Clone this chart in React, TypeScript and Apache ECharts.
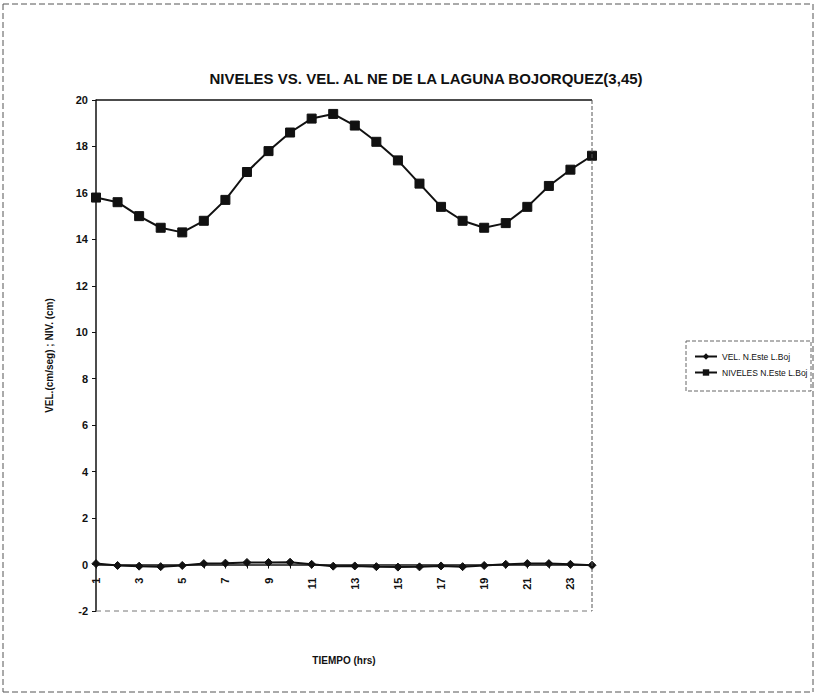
import React, { useEffect, useRef } from "react";
import * as echarts from "echarts";

const hours = ["1","2","3","4","5","6","7","8","9","10","11","12","13","14","15","16","17","18","19","20","21","22","23","24"];
const velValues = [0.04,-0.04,-0.07,-0.09,-0.04,0.04,0.06,0.09,0.09,0.1,0.01,-0.07,-0.06,-0.09,-0.11,-0.1,-0.06,-0.09,-0.04,0.01,0.04,0.04,0.01,-0.03];
const nivValues = [15.8,15.6,15.0,14.5,14.3,14.8,15.7,16.9,17.8,18.6,19.2,19.4,18.9,18.2,17.4,16.4,15.4,14.8,14.5,14.7,15.4,16.3,17.0,17.6];
const yTicks = { min: -2, max: 20, interval: 2 };

const FONT = "Liberation Sans, Arial, sans-serif";

export default function App() {
  const ref = useRef<HTMLDivElement>(null);
  useEffect(() => {
    if (!ref.current) return;
    const chart = echarts.init(ref.current, undefined, { renderer: "svg" });
    const L = 96, R = 592, T = 100, B = 611;
    const zeroOffset = -((0 - yTicks.min) / (yTicks.max - yTicks.min)) * (B - T);
    const frame = { x1: 3, y1: 4, x2: 813, y2: 692 };
    const dashed = { stroke: "#555", lineWidth: 1, lineDash: [6, 3] };
    chart.setOption({
      animation: false,
      backgroundColor: "#fff",
      title: {
        text: "NIVELES VS. VEL. AL NE DE LA LAGUNA BOJORQUEZ(3,45)",
        left: 421,
        top: 66,
        textAlign: "center",
        textStyle: { fontFamily: FONT, fontWeight: "bold", fontSize: 15, color: "#111" },
      },
      grid: { left: L, right: 817 - R, top: T, bottom: 699 - B, containLabel: false, outerBoundsMode: "none" },
      legend: {
        orient: "vertical",
        left: 689,
        top: 347,
        itemGap: 7,
        itemWidth: 22,
        itemHeight: 8,
        textStyle: { fontFamily: FONT, fontSize: 8.5, color: "#111" },
        data: ["VEL. N.Este L.Boj", "NIVELES N.Este L.Boj"],
      },
      xAxis: {
        type: "category",
        data: hours,
        boundaryGap: false,
        offset: zeroOffset,
        axisLine: { onZero: false, lineStyle: { color: "#111", width: 1.5 } },
        axisTick: { show: true, length: 4, interval: 0, lineStyle: { color: "#111" } },
        axisLabel: {
          interval: 1,
          rotate: 90,
          fontFamily: FONT,
          fontWeight: "bold",
          fontSize: 11,
          color: "#111",
          margin: 13,
        },
        splitLine: { show: false },
      },
      yAxis: {
        type: "value",
        min: yTicks.min,
        max: yTicks.max,
        interval: yTicks.interval,
        axisLine: { show: true, lineStyle: { color: "#111", width: 1.5 } },
        axisTick: { show: true, length: 4, lineStyle: { color: "#111" } },
        axisLabel: { fontFamily: FONT, fontWeight: "bold", fontSize: 11, color: "#111", margin: 8 },
        splitLine: { show: false },
        name: "VEL.(cm/seg) ; NIV. (cm)",
        nameLocation: "middle",
        nameGap: 42,
        nameRotate: 90,
        nameTextStyle: { fontFamily: FONT, fontWeight: "bold", fontSize: 10, color: "#111" },
      },
      graphic: [
        { id: "f1", type: "line", z: 10, shape: { x1: frame.x1, y1: frame.y1, x2: frame.x2, y2: frame.y1 }, style: dashed, silent: true },
        { id: "f2", type: "line", z: 10, shape: { x1: frame.x2, y1: frame.y1, x2: frame.x2, y2: frame.y2 }, style: dashed, silent: true },
        { id: "f3", type: "line", z: 10, shape: { x1: frame.x1, y1: frame.y2, x2: frame.x2, y2: frame.y2 }, style: dashed, silent: true },
        { id: "f4", type: "line", z: 10, shape: { x1: frame.x1, y1: frame.y1, x2: frame.x1, y2: frame.y2 }, style: dashed, silent: true },
        {
          id: "xname",
          type: "text",
          z: 10,
          x: (L + R) / 2,
          y: 660,
          style: {
            text: "TIEMPO (hrs)",
            font: "bold 10px " + FONT,
            fill: "#111",
            align: "center",
            verticalAlign: "middle",
          },
          silent: true,
        },
        { id: "top", type: "line", z: 10, shape: { x1: L, y1: T, x2: R, y2: T }, style: { stroke: "#111", lineWidth: 1.5 }, silent: true },
        { id: "right", type: "line", z: 10, shape: { x1: R, y1: T, x2: R, y2: B }, style: { stroke: "#555", lineWidth: 1, lineDash: [4, 2] }, silent: true },
        { id: "bottom", type: "line", z: 10, shape: { x1: L, y1: B, x2: R, y2: B }, style: { stroke: "#777", lineWidth: 1, lineDash: [5, 4] }, silent: true },
        {
          id: "legbox",
          type: "rect",
          z: 10,
          shape: { x: 686, y: 341, width: 125, height: 50 },
          style: { fill: "none", stroke: "#666", lineWidth: 1, lineDash: [4, 2] },
          silent: true,
        },
      ],
      series: [
        {
          name: "VEL. N.Este L.Boj",
          type: "line",
          data: velValues,
          symbol: "diamond",
          symbolSize: 8,
          lineStyle: { color: "#111", width: 2 },
          itemStyle: { color: "#111", borderColor: "#111" },
          z: 3,
        },
        {
          name: "NIVELES N.Este L.Boj",
          type: "line",
          data: nivValues,
          symbol: "rect",
          symbolSize: 9,
          lineStyle: { color: "#111", width: 2 },
          itemStyle: { color: "#111", borderColor: "#111" },
          z: 3,
        },
      ],
    });
    return () => chart.dispose();
  }, []);
  return <div ref={ref} style={{ position: "absolute", left: 0, top: 0, width: 817, height: 699 }} />;
}
